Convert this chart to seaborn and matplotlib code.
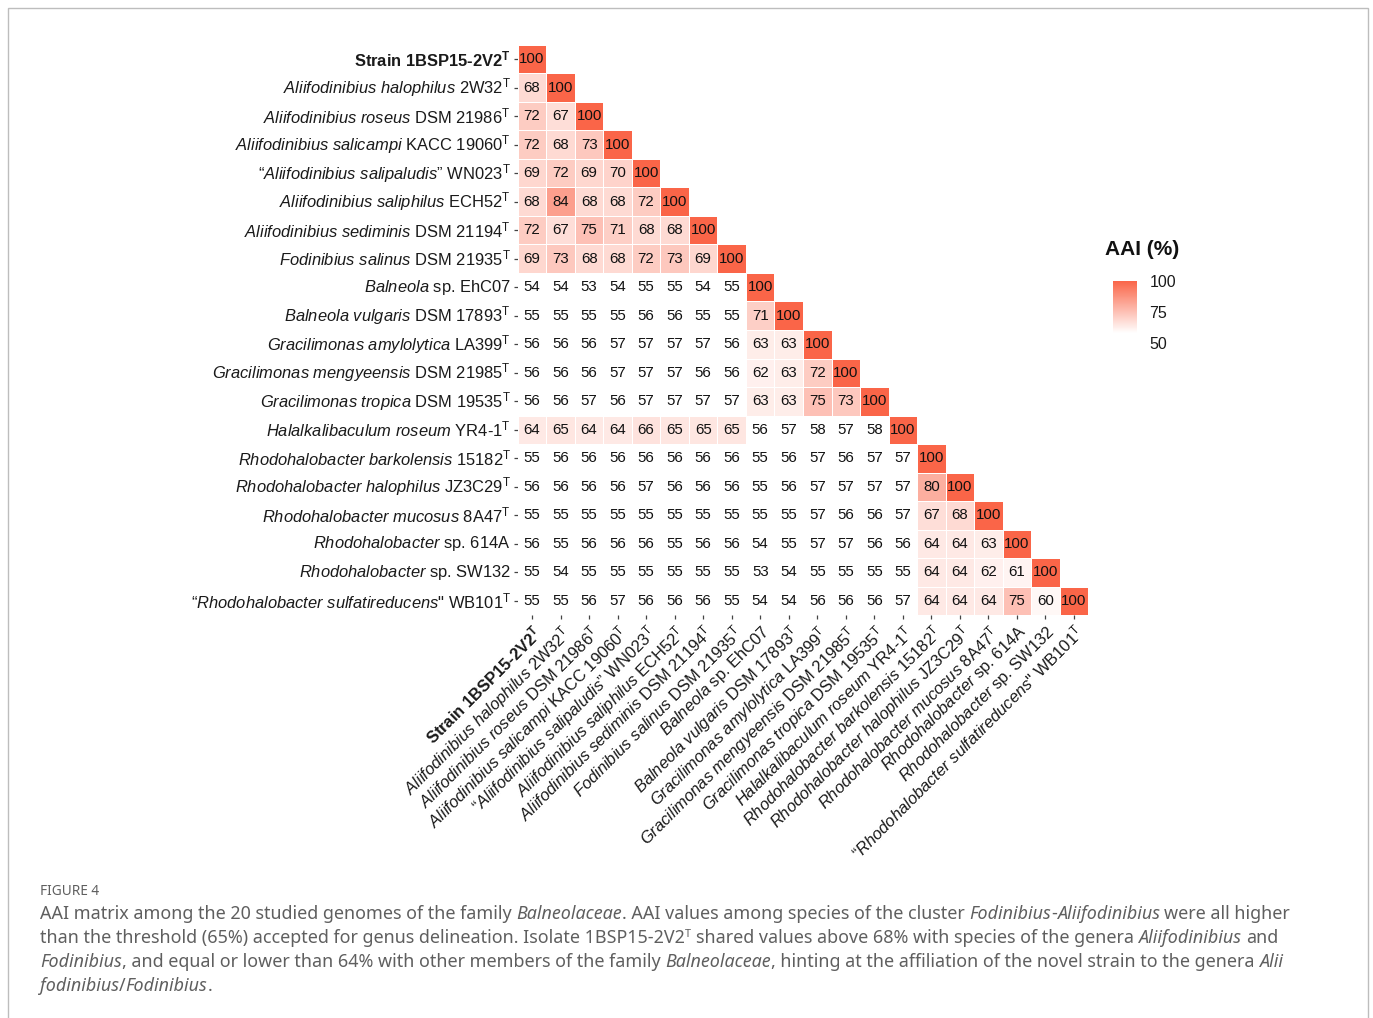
import numpy as np
import matplotlib
matplotlib.use("Agg")
import matplotlib.pyplot as plt
from matplotlib.colors import LinearSegmentedColormap
from matplotlib.patches import Rectangle
import seaborn as sns

sns.set_theme(style="white")
plt.rcParams["font.family"] = ["Liberation Sans", "DejaVu Sans"]
plt.rcParams["mathtext.fontset"] = "custom"
plt.rcParams["mathtext.rm"] = "Liberation Sans"
plt.rcParams["mathtext.it"] = "Liberation Sans:italic"
plt.rcParams["mathtext.bf"] = "Liberation Sans:bold"

# Genome labels (rows top-to-bottom, columns left-to-right)
genomes = [
    r"Strain 1BSP15-2V2$^{\mathbf{T}}$",
    r"$\mathit{Aliifodinibius\ halophilus}$ 2W32$^{\mathrm{T}}$",
    r"$\mathit{Aliifodinibius\ roseus}$ DSM 21986$^{\mathrm{T}}$",
    r"$\mathit{Aliifodinibius\ salicampi}$ KACC 19060$^{\mathrm{T}}$",
    r"“$\mathit{Aliifodinibius\ salipaludis}$” WN023$^{\mathrm{T}}$",
    r"$\mathit{Aliifodinibius\ saliphilus}$ ECH52$^{\mathrm{T}}$",
    r"$\mathit{Aliifodinibius\ sediminis}$ DSM 21194$^{\mathrm{T}}$",
    r"$\mathit{Fodinibius\ salinus}$ DSM 21935$^{\mathrm{T}}$",
    r"$\mathit{Balneola}$ sp. EhC07",
    r"$\mathit{Balneola\ vulgaris}$ DSM 17893$^{\mathrm{T}}$",
    r"$\mathit{Gracilimonas\ amylolytica}$ LA399$^{\mathrm{T}}$",
    r"$\mathit{Gracilimonas\ mengyeensis}$ DSM 21985$^{\mathrm{T}}$",
    r"$\mathit{Gracilimonas\ tropica}$ DSM 19535$^{\mathrm{T}}$",
    r"$\mathit{Halalkalibaculum\ roseum}$ YR4-1$^{\mathrm{T}}$",
    r"$\mathit{Rhodohalobacter\ barkolensis}$ 15182$^{\mathrm{T}}$",
    r"$\mathit{Rhodohalobacter\ halophilus}$ JZ3C29$^{\mathrm{T}}$",
    r"$\mathit{Rhodohalobacter\ mucosus}$ 8A47$^{\mathrm{T}}$",
    r"$\mathit{Rhodohalobacter}$ sp. 614A",
    r"$\mathit{Rhodohalobacter}$ sp. SW132",
    r"“$\mathit{Rhodohalobacter\ sulfatireducens}$" + '"' + r" WB101$^{\mathrm{T}}$",
]

# Lower-triangle AAI values (%), one list per row
aai_rows = [
    [100],
    [68, 100],
    [72, 67, 100],
    [72, 68, 73, 100],
    [69, 72, 69, 70, 100],
    [68, 84, 68, 68, 72, 100],
    [72, 67, 75, 71, 68, 68, 100],
    [69, 73, 68, 68, 72, 73, 69, 100],
    [54, 54, 53, 54, 55, 55, 54, 55, 100],
    [55, 55, 55, 55, 56, 56, 55, 55, 71, 100],
    [56, 56, 56, 57, 57, 57, 57, 56, 63, 63, 100],
    [56, 56, 56, 57, 57, 57, 56, 56, 62, 63, 72, 100],
    [56, 56, 57, 56, 57, 57, 57, 57, 63, 63, 75, 73, 100],
    [64, 65, 64, 64, 66, 65, 65, 65, 56, 57, 58, 57, 58, 100],
    [55, 56, 56, 56, 56, 56, 56, 56, 55, 56, 57, 56, 57, 57, 100],
    [56, 56, 56, 56, 57, 56, 56, 56, 55, 56, 57, 57, 57, 57, 80, 100],
    [55, 55, 55, 55, 55, 55, 55, 55, 55, 55, 57, 56, 56, 57, 67, 68, 100],
    [56, 55, 56, 56, 56, 55, 56, 56, 54, 55, 57, 57, 56, 56, 64, 64, 63, 100],
    [55, 54, 55, 55, 55, 55, 55, 55, 53, 54, 55, 55, 55, 55, 64, 64, 62, 61, 100],
    [55, 55, 56, 57, 56, 56, 56, 55, 54, 54, 56, 56, 56, 57, 64, 64, 64, 75, 60, 100],
]

n = len(genomes)
aai = np.full((n, n), np.nan)
for i, row in enumerate(aai_rows):
    aai[i, :len(row)] = row
mask = np.triu(np.ones((n, n), dtype=bool), k=1)

W, H = 1373, 1018
fig = plt.figure(figsize=(W / 100, H / 100), dpi=100)

# white below ~58 %, rising to tomato at 100 %
cmap = LinearSegmentedColormap.from_list(
    "aai", [(0.0, "#ffffff"), (0.16, "#ffffff"), (1.0, "#fa6548")])

ax = fig.add_axes([517.75 / W, 1 - 615.25 / H, 570.5 / W, 570.5 / H])
sns.heatmap(aai, mask=mask, cmap=cmap, vmin=50, vmax=100, annot=True, fmt=".0f",
            annot_kws={"color": "#111111", "fontsize": 10.8},
            linewidths=0.6, linecolor="white", cbar=False, ax=ax,
            xticklabels=genomes, yticklabels=genomes)

ax.tick_params(axis="both", which="both", length=3, width=0.9, color="#444444",
               pad=2, bottom=True, left=True)
ax.set_yticklabels(genomes, rotation=0, fontsize=11.9, color="#1a1a1a")
ax.set_xticklabels(genomes, rotation=45, ha="right", va="top",
                   rotation_mode="anchor", fontsize=11.9, color="#1a1a1a")
for lab in (ax.get_yticklabels()[0], ax.get_xticklabels()[0]):
    lab.set_fontweight("bold")

# colour legend
cax = fig.add_axes([1113 / W, 1 - 343 / H, 24 / W, 62 / H])
cb = fig.colorbar(ax.collections[0], cax=cax, ticks=[50, 75, 100])
cb.outline.set_visible(False)
cax.tick_params(direction="in", length=4, width=0.8, color="white",
                labelsize=11.5, pad=9, left=True, right=True, labelcolor="#1a1a1a")
fig.text(1105 / W, 1 - 255 / H, "AAI (%)", fontsize=15, fontweight="bold",
         ha="left", va="baseline", color="#111111")

# frame around the figure panel
fig.patches.append(Rectangle((8 / W, -0.02), 1360 / W, 1 - 8 / H + 0.02,
                             transform=fig.transFigure, fill=False,
                             edgecolor="#bdbdbd", linewidth=1.0))

# caption
cap_family = ["Noto Sans", "DejaVu Sans"]
cap_color = "#5f5f5f"
cap_size = 12.9
fig.text(40 / W, 1 - 895 / H, "FIGURE 4", fontsize=9.8, family=cap_family,
         color=cap_color, ha="left", va="baseline")

renderer = fig.canvas.get_renderer()


def text_width(s, **kw):
    t = fig.text(0, 0, s, **kw)
    w = t.get_window_extent(renderer).width
    t.remove()
    return w


def draw_runs(x0, y0, runs):
    x = x0
    for s, style in runs:
        kw = dict(fontsize=cap_size, family=cap_family, color=cap_color)
        dy = 0
        if style == "i":
            kw["fontstyle"] = "italic"
        if style == "sup":
            kw["fontsize"] = cap_size * 0.6
            dy = 6
        sp = text_width("a a", **kw) - text_width("aa", **kw)
        lead = len(s) - len(s.lstrip(" "))
        trail = len(s) - len(s.rstrip(" "))
        core = s.strip(" ")
        x += lead * sp
        if core:
            t = fig.text(x / W, 1 - (y0 - dy) / H, core, ha="left", va="baseline", **kw)
            x += t.get_window_extent(renderer).width
        x += trail * sp


caption = [
    [("AAI matrix among the 20 studied genomes of the family ", "n"), ("Balneolaceae", "i"),
     (". AAI values among species of the cluster ", "n"), ("Fodinibius", "i"), ("-", "n"),
     ("Aliifodinibius", "i"), (" were all higher", "n")],
    [("than the threshold (65%) accepted for genus delineation. Isolate 1BSP15-2V2", "n"),
     ("T", "sup"), (" shared values above 68% with species of the genera ", "n"),
     ("Aliifodinibius", "i"), (" and", "n")],
    [("Fodinibius", "i"), (", and equal or lower than 64% with other members of the family ", "n"),
     ("Balneolaceae", "i"), (", hinting at the affiliation of the novel strain to the genera ", "n"),
     ("Alii", "i")],
    [("fodinibius", "i"), ("/", "n"), ("Fodinibius", "i"), (".", "n")],
]
for k, runs in enumerate(caption):
    draw_runs(40, 919 + 24 * k, runs)

fig.savefig("out.png", dpi=100, facecolor="white")
